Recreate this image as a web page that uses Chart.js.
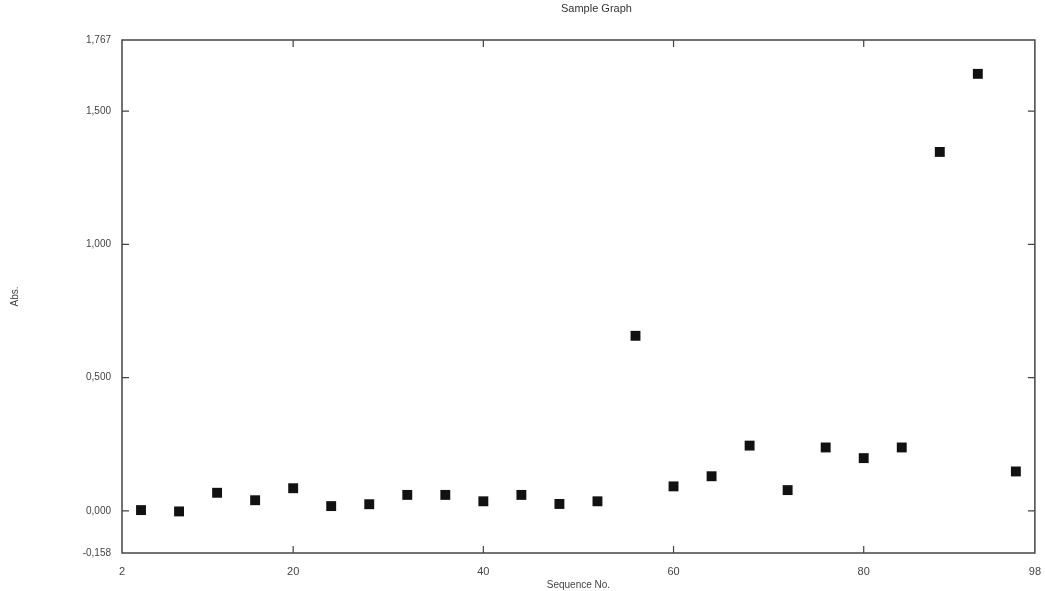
<!DOCTYPE html>
<html>
<head>
<meta charset="utf-8">
<title>Sample Graph</title>
<script src="https://cdn.jsdelivr.net/npm/chart.js@4.4.1/dist/chart.umd.min.js"></script>
<style>
  html, body { margin: 0; padding: 0; background: #fff; }
  #wrap { width: 1045px; height: 591px; }
</style>
</head>
<body>
<div id="wrap"><canvas id="myChart" width="1045" height="591"></canvas></div>
<script>
// sequence numbers (x) and absorbance readings (y)
const seqNo = [4, 8, 12, 16, 20, 24, 28, 32, 36, 40, 44, 48, 52, 56, 60, 64, 68, 72, 76, 80, 84, 88, 92, 96];
const absValues = [0.003, -0.002, 0.068, 0.040, 0.085, 0.018, 0.025, 0.060, 0.060, 0.036, 0.060, 0.026, 0.036, 0.657,
                   0.092, 0.130, 0.245, 0.078, 0.238, 0.198, 0.238, 1.347, 1.640, 0.148];

// tick labels
const xTicks = [2, 20, 40, 60, 80, 98];
const yTicks = [-0.158, 0, 0.5, 1.0, 1.5, 1.767];
const xInner = [20, 40, 60, 80];
const yInner = [0, 0.5, 1.0, 1.5];
const chartTitle = 'Sample Graph';

const fmtY = (v) => v.toFixed(3).replace('.', ',');

// box round the plot, inward tick marks on all four sides, and the title
const frame = {
    id: 'frame',
    afterDatasetsDraw(chart) {
        const { ctx, chartArea: a, scales } = chart;
        ctx.save();
        ctx.strokeStyle = '#444';
        ctx.lineWidth = 1.5;
        ctx.strokeRect(a.left, a.top, a.right - a.left, a.bottom - a.top);
        ctx.lineWidth = 1.2;
        ctx.beginPath();
        xInner.forEach(v => {
            const px = scales.x.getPixelForValue(v);
            ctx.moveTo(px, a.bottom); ctx.lineTo(px, a.bottom - 7);
            ctx.moveTo(px, a.top); ctx.lineTo(px, a.top + 7);
        });
        yInner.forEach(v => {
            const py = scales.y.getPixelForValue(v);
            ctx.moveTo(a.left, py); ctx.lineTo(a.left + 7, py);
            ctx.moveTo(a.right, py); ctx.lineTo(a.right - 7, py);
        });
        ctx.stroke();

        // title sits a little right of the plot centre, as in the scan
        ctx.fillStyle = '#333';
        ctx.font = '11px "Liberation Sans"';
        ctx.textAlign = 'center';
        ctx.textBaseline = 'middle';
        ctx.fillText(chartTitle, (a.left + a.right) / 2 + 18, 9);
        ctx.restore();
    }
};

const ctx = document.getElementById('myChart').getContext('2d');
new Chart(ctx, {
    type: 'scatter',
    data: {
        datasets: [{
            label: 'Abs.',
            data: seqNo.map((x, i) => ({ x: x, y: absValues[i] })),
            pointStyle: 'rect',
            pointRadius: 7,
            pointHoverRadius: 7,
            backgroundColor: '#111',
            borderColor: '#111',
            borderWidth: 0
        }]
    },
    options: {
        responsive: false,
        animation: false,
        layout: { padding: { left: 0, right: 8, top: 40, bottom: 0 } },
        plugins: {
            legend: { display: false },
            tooltip: { enabled: false },
            title: { display: false }
        },
        scales: {
            x: {
                type: 'linear',
                min: 2,
                max: 98,
                afterBuildTicks: (s) => { s.ticks = xTicks.map(v => ({ value: v })); },
                afterFit: (s) => { s.height = 38; },
                grid: { display: false },
                border: { display: false },
                ticks: {
                    color: '#444',
                    padding: 4,
                    font: { family: 'Liberation Sans', size: 11 },
                    callback: (v) => String(v)
                },
                title: {
                    display: true,
                    text: 'Sequence No.',
                    color: '#444',
                    font: { family: 'Liberation Sans', size: 10 },
                    padding: { top: -5, bottom: 0 }
                }
            },
            y: {
                type: 'linear',
                min: -0.158,
                max: 1.767,
                afterBuildTicks: (s) => { s.ticks = yTicks.map(v => ({ value: v })); },
                afterFit: (s) => { s.width = 122; },
                grid: { display: false },
                border: { display: false },
                ticks: {
                    color: '#444',
                    padding: 3,
                    font: { family: 'Liberation Sans', size: 10 },
                    callback: (v) => fmtY(v)
                },
                title: {
                    display: true,
                    text: 'Abs.',
                    color: '#444',
                    font: { family: 'Liberation Sans', size: 10 },
                    padding: { top: 9, bottom: 0 }
                }
            }
        }
    },
    plugins: [frame]
});
</script>
</body>
</html>
